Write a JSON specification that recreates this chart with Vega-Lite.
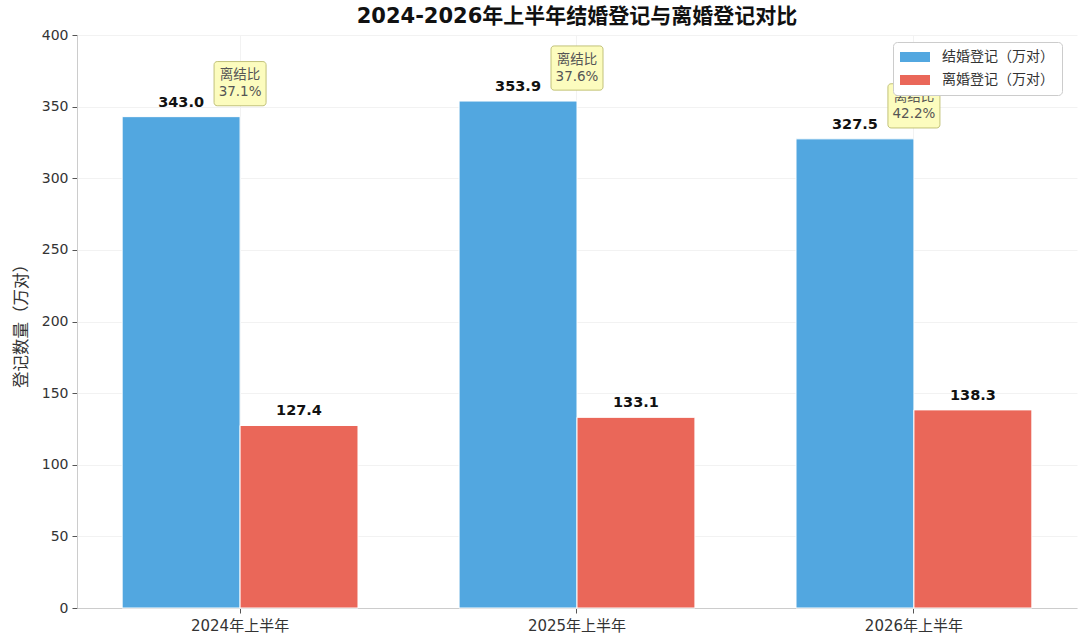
{
  "$schema": "https://vega.github.io/schema/vega-lite/v6.json",
  "width": 1000,
  "height": 573,
  "autosize": {"type": "none"},
  "padding": {"left": 77, "top": 35, "right": 3, "bottom": 35},
  "config": {
    "font": "DejaVu Sans, Noto Sans CJK SC",
    "view": {"stroke": null}
  },
  "title": {
    "text": "2024-2026年上半年结婚登记与离婚登记对比",
    "fontSize": 21,
    "fontWeight": "bold",
    "color": "#111111",
    "anchor": "middle",
    "offset": 1
  },
  "datasets": {
    "bars": [
      {"period": "2024年上半年", "type": "结婚登记（万对）", "value": 343.0},
      {"period": "2024年上半年", "type": "离婚登记（万对）", "value": 127.4},
      {"period": "2025年上半年", "type": "结婚登记（万对）", "value": 353.9},
      {"period": "2025年上半年", "type": "离婚登记（万对）", "value": 133.1},
      {"period": "2026年上半年", "type": "结婚登记（万对）", "value": 327.5},
      {"period": "2026年上半年", "type": "离婚登记（万对）", "value": 138.3}
    ],
    "ratios": [
      {"period": "2024年上半年", "marriage": 343.0, "label": "离结比\n37.1%"},
      {"period": "2025年上半年", "marriage": 353.9, "label": "离结比\n37.6%"},
      {"period": "2026年上半年", "marriage": 327.5, "label": "离结比\n42.2%"}
    ]
  },
  "encoding": {
    "x": {
      "field": "period",
      "type": "nominal",
      "sort": null,
      "scale": {"paddingInner": 0.3, "paddingOuter": 0.134},
      "axis": {
        "title": null,
        "labelAngle": 0,
        "labelFontSize": 15,
        "labelColor": "#333333",
        "labelPadding": 5,
        "tickColor": "#555555",
        "tickSize": 5,
        "domainColor": "#cccccc",
        "grid": true,
        "gridColor": "#f2f2f2",
        "gridWidth": 1,
        "tickBand": "center"
      }
    }
  },
  "layer": [
    {
      "data": {"name": "bars"},
      "mark": {"type": "bar", "stroke": "white", "strokeWidth": 1},
      "encoding": {
        "xOffset": {"field": "type", "type": "nominal", "scale": {"domain": ["结婚登记（万对）", "离婚登记（万对）"]}},
        "y": {
          "field": "value",
          "type": "quantitative",
          "scale": {"domain": [0, 400], "nice": false},
          "axis": {
            "values": [0, 50, 100, 150, 200, 250, 300, 350, 400],
            "title": "登记数量（万对）",
            "titleFontSize": 16.5,
            "titleFontWeight": "normal",
            "titleColor": "#333333",
            "titlePadding": 12,
            "labelFontSize": 14,
            "labelColor": "#333333",
            "labelPadding": 4,
            "tickColor": "#555555",
            "tickSize": 5,
            "domainColor": "#cccccc",
            "grid": true,
            "gridColor": "#f2f2f2"
          }
        },
        "color": {
          "field": "type",
          "type": "nominal",
          "scale": {"domain": ["结婚登记（万对）", "离婚登记（万对）"], "range": ["#52a7e0", "#ea6759"]},
          "legend": {
            "title": null,
            "orient": "none",
            "legendX": 816,
            "legendY": 7,
            "symbolType": "M-1.6,-1H4.4V1H-1.6Z",
            "symbolSize": 100,
            "symbolStrokeWidth": 0,
            "labelFontSize": 14,
            "labelColor": "#333333",
            "labelOffset": 27,
            "padding": 8,
            "rowPadding": 9,
            "strokeColor": "#cccccc",
            "fillColor": "white",
            "cornerRadius": 4
          }
        }
      }
    },
    {
      "data": {"name": "bars"},
      "mark": {"type": "text", "fontSize": 14.5, "fontWeight": "bold", "color": "#111111", "baseline": "alphabetic", "dy": -10},
      "encoding": {
        "xOffset": {"field": "type", "type": "nominal", "scale": {"domain": ["结婚登记（万对）", "离婚登记（万对）"]}},
        "y": {"field": "value", "type": "quantitative"},
        "text": {"field": "value", "type": "quantitative", "format": ".1f"}
      }
    },
    {
      "data": {"name": "ratios"},
      "mark": {"type": "point", "shape": "M-0.88,-0.85H0.88A0.12,0.12 0 0 1 1,-0.73V0.73A0.12,0.12 0 0 1 0.88,0.85H-0.88A0.12,0.12 0 0 1 -1,0.73V-0.73A0.12,0.12 0 0 1 -0.88,-0.85Z", "size": 2704, "filled": true, "fill": "#fcfcbe", "stroke": "#c2c27a", "strokeWidth": 1, "opacity": 1, "yOffset": -33},
      "encoding": {
        "y": {"field": "marriage", "type": "quantitative"}
      }
    },
    {
      "data": {"name": "ratios"},
      "mark": {"type": "text", "fontSize": 13.5, "color": "#555555", "baseline": "middle", "lineBreak": "\n", "lineHeight": 17, "yOffset": -41.5},
      "encoding": {
        "y": {"field": "marriage", "type": "quantitative"},
        "text": {"field": "label", "type": "nominal"}
      }
    }
  ]
}
